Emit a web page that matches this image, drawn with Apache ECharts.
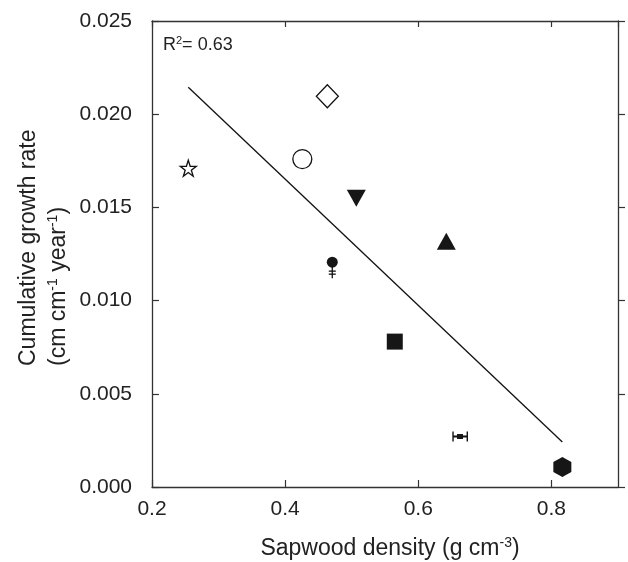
<!DOCTYPE html>
<html>
<head>
<meta charset="utf-8">
<script src="https://cdn.jsdelivr.net/npm/echarts@6/dist/echarts.min.js"></script>
<style>
html,body{margin:0;padding:0;background:#fff;}
#c{width:628px;height:562px;}
</style>
</head>
<body>
<div id="c"></div>
<script>
// ---- data ----
var xTicks = [0.2, 0.4, 0.6, 0.8];
var yTicks = [0.000, 0.005, 0.010, 0.015, 0.020, 0.025];
var density = [0.2545, 0.4258, 0.4634, 0.5069, 0.6421, 0.4708, 0.5647, 0.6627, 0.8164];
var growth  = [0.0171, 0.01759, 0.02096, 0.01549, 0.01319, 0.01206, 0.0078, 0.00271, 0.00107];
// vertical error bar (point 6): lower cap, stem end
var vErrX = [0.4708];
var vErrTop = [0.01206];
var vErrCap = [0.0115];
var vErrEnd = [0.0112];
// horizontal error bar (point 8)
var hErrY = [0.00271];
var hErrLo = [0.6522];
var hErrHi = [0.6736];
// regression line endpoints
var fitX = [0.2545, 0.8164];
var fitY = [0.02145, 0.00241];
var r2Text = '0.63';

// ---- styles (not data) ----
var STAR = 'path://M50,0 L61.8,35.1 L100,35.1 L69.1,57.6 L80.9,92.7 L50,70.8 L19.1,92.7 L30.9,57.6 L0,35.1 L38.2,35.1 Z';
var HEX = 'path://M50,0 L93.3,25 L93.3,75 L50,100 L6.7,75 L6.7,25 Z';
var markerStyles = [
  {symbol: STAR, size: [16, 16], fill: '#fff', rot: 0},
  {symbol: 'circle', size: 19, fill: '#fff', rot: 0},
  {symbol: 'diamond', size: [22, 23], fill: '#fff', rot: 0},
  {symbol: 'triangle', size: [19, 17], fill: '#161616', rot: 180},
  {symbol: 'triangle', size: [19, 17], fill: '#161616', rot: 0},
  {symbol: 'circle', size: 11, fill: '#161616', rot: 0},
  {symbol: 'rect', size: 16, fill: '#161616', rot: 0},
  {symbol: 'rect', size: [6, 5], fill: '#161616', rot: 0},
  {symbol: HEX, size: [18, 20], fill: '#161616', rot: 0}
];

var pts = density.map(function (x, i) {
  var s = markerStyles[i];
  return {
    value: [x, growth[i]],
    symbol: s.symbol,
    symbolSize: s.size,
    symbolRotate: s.rot,
    itemStyle: {color: s.fill, opacity: 1, borderColor: '#111', borderWidth: s.fill === '#fff' ? 1.3 : 0}
  };
});

var FONT = 'Liberation Sans, Arial, sans-serif';
var axisCol = '#333';
var chart = echarts.init(document.getElementById('c'), null, {renderer: 'canvas'});

var vErrData = vErrX.map(function (x, i) { return [x, vErrTop[i], vErrCap[i], vErrEnd[i]]; });
var hErrData = hErrY.map(function (y, i) { return [hErrLo[i], hErrHi[i], y]; });

chart.setOption({
  animation: false,
  grid: {left: 152, right: 10, top: 21, bottom: 75, containLabel: false},
  xAxis: [{
    type: 'value', min: 0.2, max: 0.9, interval: 0.2, position: 'bottom',
    axisLine: {show: true, onZero: false, lineStyle: {color: axisCol, width: 1.3}},
    axisTick: {show: true, inside: true, length: 7, lineStyle: {color: axisCol, width: 1.2}},
    axisLabel: {show: true, margin: 12, fontSize: 21, fontFamily: FONT, color: '#222',
      showMaxLabel: false,
      formatter: function (v) { return xTicks.indexOf(Math.round(v * 10) / 10) >= 0 ? v.toFixed(1) : ''; }},
    splitLine: {show: false}
  }, {
    type: 'value', min: 0.2, max: 0.9, interval: 0.2, position: 'top',
    axisLine: {show: true, onZero: false, lineStyle: {color: axisCol, width: 1.3}},
    axisTick: {show: true, inside: true, length: 6, lineStyle: {color: axisCol, width: 1.2}},
    axisLabel: {show: false}, splitLine: {show: false}
  }],
  yAxis: [{
    type: 'value', min: 0, max: 0.025, interval: 0.005, position: 'left',
    axisLine: {show: true, onZero: false, lineStyle: {color: axisCol, width: 1.3}},
    axisTick: {show: true, inside: true, length: 7, lineStyle: {color: axisCol, width: 1.2}},
    axisLabel: {show: true, margin: 20, fontSize: 21, fontFamily: FONT, color: '#222',
      formatter: function (v) { return v.toFixed(3); }},
    splitLine: {show: false}
  }, {
    type: 'value', min: 0, max: 0.025, interval: 0.005, position: 'right',
    axisLine: {show: true, onZero: false, lineStyle: {color: axisCol, width: 1.3}},
    axisTick: {show: true, inside: false, length: 7, lineStyle: {color: axisCol, width: 1.2}},
    axisLabel: {show: false}, splitLine: {show: false}
  }],
  series: [{
    type: 'line', xAxisIndex: 0, yAxisIndex: 0,
    data: fitX.map(function (x, i) { return [x, fitY[i]]; }),
    symbol: 'none', lineStyle: {color: '#111', width: 1.3}, z: 1
  }, {
    type: 'custom', xAxisIndex: 0, yAxisIndex: 0, data: vErrData, z: 2,
    renderItem: function (params, api) {
      var top = api.coord([api.value(0), api.value(1)]);
      var cap = api.coord([api.value(0), api.value(2)]);
      var end = api.coord([api.value(0), api.value(3)]);
      var st = {stroke: '#111', lineWidth: 1.3};
      return {type: 'group', children: [
        {type: 'line', shape: {x1: top[0], y1: top[1], x2: end[0], y2: end[1]}, style: st},
        {type: 'line', shape: {x1: cap[0] - 3.5, y1: cap[1] - 1.5, x2: cap[0] + 3.5, y2: cap[1] - 1.5}, style: st},
        {type: 'line', shape: {x1: cap[0] - 3.5, y1: cap[1] + 1.5, x2: cap[0] + 3.5, y2: cap[1] + 1.5}, style: st}
      ]};
    }
  }, {
    type: 'custom', xAxisIndex: 0, yAxisIndex: 0, data: hErrData, z: 2,
    renderItem: function (params, api) {
      var lo = api.coord([api.value(0), api.value(2)]);
      var hi = api.coord([api.value(1), api.value(2)]);
      var st = {stroke: '#111', lineWidth: 1.4};
      return {type: 'group', children: [
        {type: 'line', shape: {x1: lo[0], y1: lo[1], x2: hi[0], y2: hi[1]}, style: {stroke: '#111', lineWidth: 2}},
        {type: 'line', shape: {x1: lo[0], y1: lo[1] - 5, x2: lo[0], y2: lo[1] + 5}, style: st},
        {type: 'line', shape: {x1: hi[0], y1: hi[1] - 5, x2: hi[0], y2: hi[1] + 5}, style: st}
      ]};
    }
  }, {
    type: 'scatter', xAxisIndex: 0, yAxisIndex: 0, data: pts, z: 3,
    itemStyle: {opacity: 1}
  }],
  graphic: [{
    type: 'text', x: 163, y: 45,
    style: {
      text: 'R{sup|2}= ' + r2Text,
      font: '18px ' + FONT, fill: '#222', verticalAlign: 'middle', align: 'left',
      rich: {sup: {fontSize: 11, fontFamily: FONT, fill: '#222', padding: [0, 0, 9, 0]}}
    }
  }, {
    type: 'text', x: 29, y: 366, rotation: Math.PI / 2,
    style: {text: 'Cumulative growth rate', font: '23px ' + FONT, fill: '#222', align: 'left', verticalAlign: 'middle'}
  }, {
    type: 'text', x: 59, y: 366, rotation: Math.PI / 2,
    style: {
      text: '(cm cm{sup|-1} year{sup|-1})', font: '23px ' + FONT, fill: '#222', align: 'left', verticalAlign: 'middle',
      rich: {sup: {fontSize: 14, fontFamily: FONT, fill: '#222', padding: [0, 0, 12, 0]}}
    }
  }, {
    type: 'text', x: 390, y: 549,
    style: {
      text: 'Sapwood density (g cm{sup|-3})', font: '23px ' + FONT, fill: '#222', align: 'center', verticalAlign: 'middle',
      rich: {sup: {fontSize: 14, fontFamily: FONT, fill: '#222', padding: [0, 0, 12, 0]}}
    }
  }]
});
</script>
</body>
</html>
